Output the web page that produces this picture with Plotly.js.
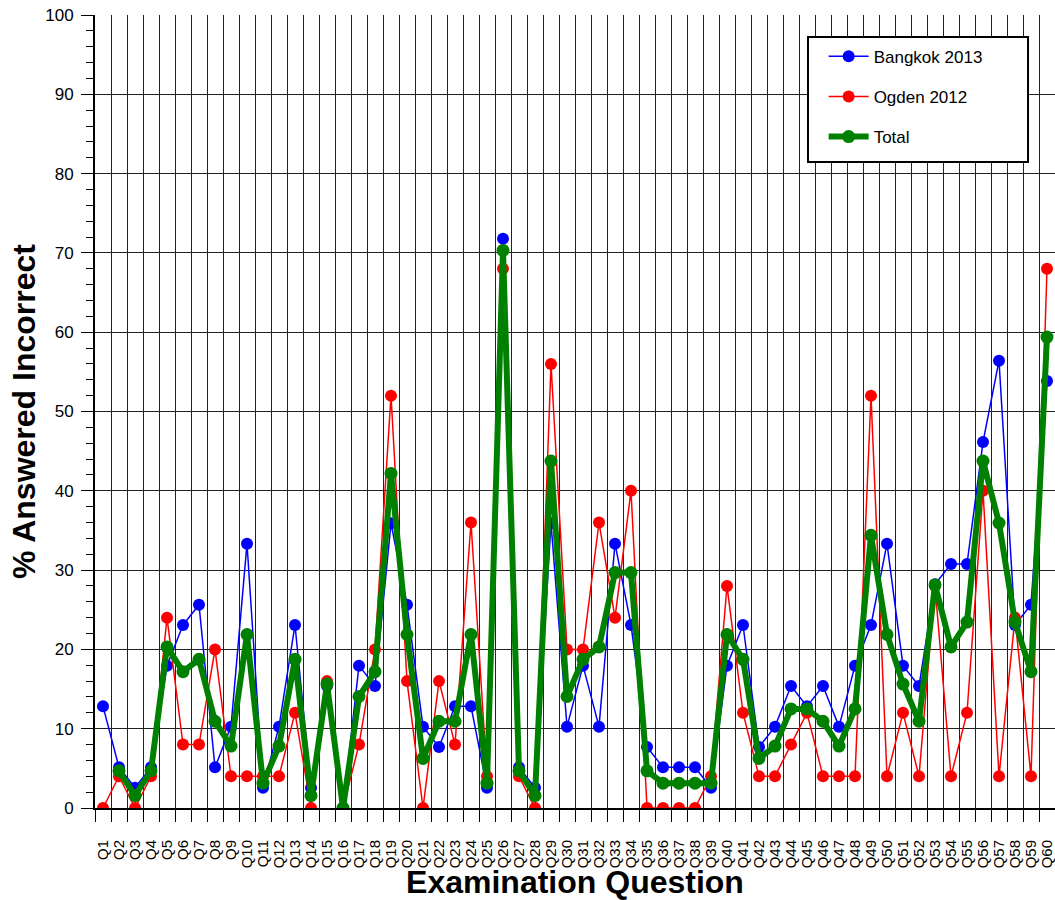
<!DOCTYPE html>
<html>
<head>
<meta charset="utf-8">
<script src="https://cdn.plot.ly/plotly-3.0.1.min.js"></script>
<style>html,body{margin:0;padding:0;background:#fff;}#chart{width:1055px;height:900px;}</style>
</head>
<body>
<div id="chart"></div>
<script>
var questions = ["Q1","Q2","Q3","Q4","Q5","Q6","Q7","Q8","Q9","Q10",
  "Q11","Q12","Q13","Q14","Q15","Q16","Q17","Q18","Q19","Q20",
  "Q21","Q22","Q23","Q24","Q25","Q26","Q27","Q28","Q29","Q30",
  "Q31","Q32","Q33","Q34","Q35","Q36","Q37","Q38","Q39","Q40",
  "Q41","Q42","Q43","Q44","Q45","Q46","Q47","Q48","Q49","Q50",
  "Q51","Q52","Q53","Q54","Q55","Q56","Q57","Q58","Q59","Q60"];

var bangkok2013 = [12.82, 5.13, 2.56, 5.13, 17.95, 23.08, 25.64, 5.13, 10.26, 33.33,
  2.56, 10.26, 23.08, 2.56, 15.38, 0, 17.95, 15.38, 35.90, 25.64,
  10.26, 7.69, 12.82, 12.82, 2.56, 71.79, 5.13, 2.56, 35.90, 10.26,
  17.95, 10.26, 33.33, 23.08, 7.69, 5.13, 5.13, 5.13, 2.56, 17.95,
  23.08, 7.69, 10.26, 15.38, 12.82, 15.38, 10.26, 17.95, 23.08, 33.33,
  17.95, 15.38, 28.21, 30.77, 30.77, 46.15, 56.41, 23.08, 25.64, 53.85];

var ogden2012 = [0, 4, 0, 4, 24, 8, 8, 20, 4, 4,
  4, 4, 12, 0, 16, 0, 8, 20, 52, 16,
  0, 16, 8, 36, 4, 68, 4, 0, 56, 20,
  20, 36, 24, 40, 0, 0, 0, 0, 4, 28,
  12, 4, 4, 8, 12, 4, 4, 4, 52, 4,
  12, 4, 28, 4, 12, 40, 4, 24, 4, 68];

var total = [null, 4.69, 1.56, 4.69, 20.31, 17.19, 18.75, 10.94, 7.81, 21.88,
  3.13, 7.81, 18.75, 1.56, 15.63, 0, 14.06, 17.19, 42.19, 21.88,
  6.25, 10.94, 10.94, 21.88, 3.13, 70.31, 4.69, 1.56, 43.75, 14.06,
  18.75, 20.31, 29.69, 29.69, 4.69, 3.13, 3.13, 3.13, 3.13, 21.88,
  18.75, 6.25, 7.81, 12.5, 12.5, 10.94, 7.81, 12.5, 34.38, 21.88,
  15.63, 10.94, 28.13, 20.31, 23.44, 43.75, 35.94, 23.44, 17.19, 59.38];

var yTicks = [0, 10, 20, 30, 40, 50, 60, 70, 80, 90, 100];

var FONT = "Liberation Sans, Arial, sans-serif";

var traces = [
  {x: questions, y: bangkok2013, name: "Bangkok 2013", type: "scatter", mode: "lines+markers",
   legendgroup: "a",
   line: {color: "#0000FF", width: 1.5}, marker: {color: "#0000FF", size: 12}},
  {x: questions, y: ogden2012, name: "Ogden 2012", type: "scatter", mode: "lines+markers",
   legendgroup: "b",
   line: {color: "#FF0000", width: 1.5}, marker: {color: "#FF0000", size: 12}},
  {x: questions, y: total, name: "Total", type: "scatter", mode: "lines+markers",
   legendgroup: "c",
   line: {color: "#008000", width: 6}, marker: {color: "#008000", size: 13}}
];

var layout = {
  width: 1055, height: 900,
  margin: {l: 95, r: 0, t: 15, b: 92, pad: 0},
  paper_bgcolor: "#fff", plot_bgcolor: "#fff",
  font: {family: FONT, color: "#000"},
  showlegend: true,
  legend: {
    x: 0.759, y: 0.970, xanchor: "left", yanchor: "top",
    bgcolor: "rgba(0,0,0,0)", borderwidth: 0,
    font: {family: FONT, size: 17, color: "#000"},
    tracegroupgap: 15, itemwidth: 40
  },
  shapes: [{
    type: "rect", xref: "paper", yref: "paper",
    x0: 0.7427, x1: 0.9719, y0: 0.8146, y1: 0.9723,
    line: {color: "#000", width: 2}, fillcolor: "#fff", layer: "above"
  }],
  xaxis: {
    type: "category",
    range: [-0.5, 59.5],
    tickmode: "array", tickvals: questions, ticktext: questions,
    tickson: "boundaries",
    ticks: "outside", ticklen: 12, tickcolor: "#000", tickwidth: 1,
    tickangle: -90, ticklabelstandoff: 24,
    tickfont: {family: FONT, size: 15, color: "#000"},
    showgrid: true, gridcolor: "#222", gridwidth: 1,
    showline: true, linecolor: "#000", linewidth: 2,
    zeroline: false, automargin: false,
    title: {text: "<b>Examination Question</b>", font: {family: FONT, size: 32, color: "#000"}, standoff: 12}
  },
  yaxis: {
    range: [0, 100],
    tickvals: yTicks,
    ticks: "outside", ticklen: 12, tickcolor: "#000", tickwidth: 1,
    ticklabelstandoff: 4,
    tickfont: {family: FONT, size: 17, color: "#000"},
    minor: {dtick: 2, ticks: "outside", ticklen: 7, tickcolor: "#000", showgrid: false},
    showgrid: true, gridcolor: "#222", gridwidth: 1,
    showline: true, linecolor: "#000", linewidth: 2,
    zeroline: false, automargin: false,
    title: {text: "<b>% Answered Incorrect</b>", font: {family: FONT, size: 32, color: "#000"}, standoff: 0}
  }
};

Plotly.newPlot("chart", traces, layout, {displayModeBar: false, staticPlot: true});
</script>
</body>
</html>
